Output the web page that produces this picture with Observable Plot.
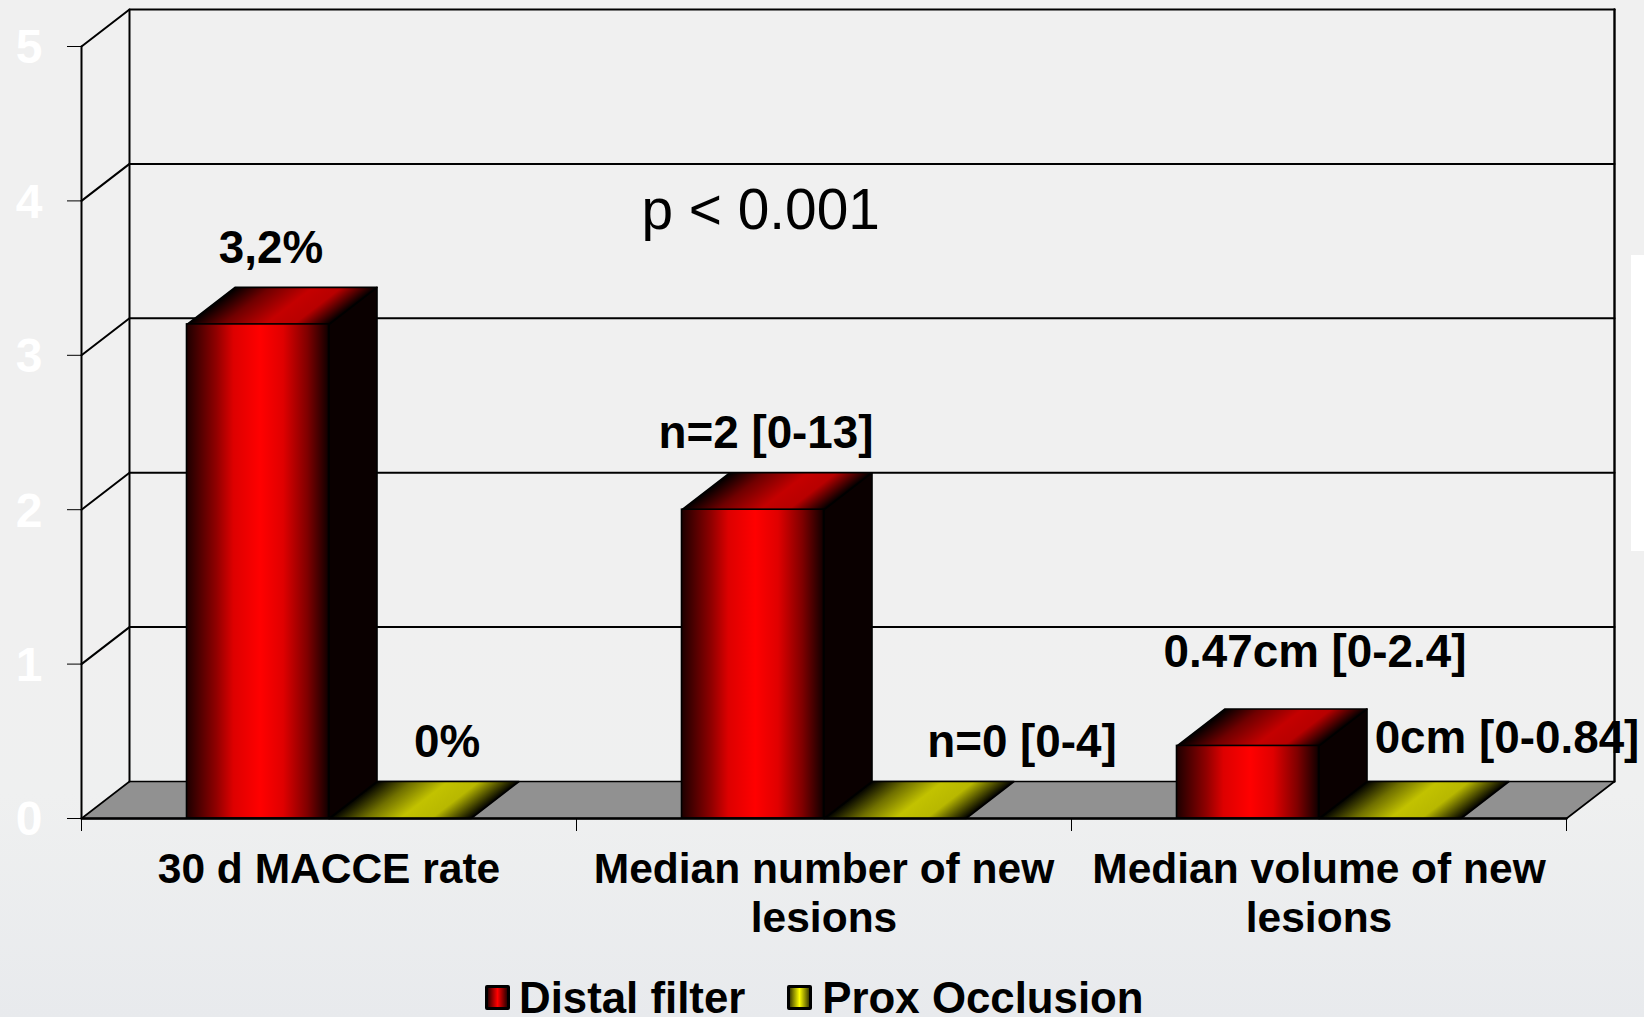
<!DOCTYPE html>
<html><head><meta charset="utf-8">
<script src="https://cdn.jsdelivr.net/npm/d3@7"></script>
<script src="https://cdn.jsdelivr.net/npm/@observablehq/plot@0.6"></script>
<style>
html,body{margin:0;padding:0;width:1644px;height:1017px;overflow:hidden;font-family:"Liberation Sans",Arial,sans-serif;
background:linear-gradient(#f0f0f0 0,#f0f0f0 62%,#eff0f0 78%,#e8eaed 100%);}
#wrap{position:relative;width:1644px;height:1017px}
#wrap svg{position:absolute;left:0;top:0;overflow:visible}
#strip{position:absolute;left:1631px;top:255px;width:13px;height:296px;background:#fff}
#legend{position:absolute;left:485px;top:979px;height:36px;display:flex;align-items:center;font-weight:bold;font-size:43.8px;line-height:36px;color:#000;white-space:nowrap}
#legend span{display:block;height:36px;line-height:36px;margin-top:1px}
#legend i{display:inline-block;box-sizing:border-box;width:25px;height:25px;border:3px solid #000;border-radius:2px}
#legend i.r{background:linear-gradient(90deg,#300000,#f00 50%,#300000);margin-right:9px}
#legend i.y{background:linear-gradient(90deg,#404000,#ff0 50%,#404000);margin-left:42px;margin-right:10px}
</style></head><body>
<div id="wrap"><div id="strip"></div><div id="legend"><i class="r"></i><span>Distal filter</span><i class="y"></i><span>Prox Occlusion</span></div></div>
<script>
const categories = ["30 d MACCE rate", "Median number of new\nlesions", "Median volume of new\nlesions"];
const distalFilter = [3.2, 2, 0.47];
const proxOcclusion = [0, 0, 0];
const distalLabels = ["3,2%", "n=2 [0-13]", "0.47cm [0-2.4]"];
const proxLabels = ["0%", "n=0 [0-4]", "0cm [0-0.84]"];
const yTicks = [0, 1, 2, 3, 4, 5];
const seriesNames = ["Distal filter", "Prox Occlusion"];

// oblique-projection settings, in scale units
const depthX = 48 / 495, depthY = 37 / 154.4;
const gap = 105.5 / 495, barW = 142 / 495;
const distalNudge = [[13, -76], [13, -76], [67, -94]];
const proxNudge = [[47, -76], [127, -76], [117, -80]];

function poly(pts) { return pts.concat([pts[0]]).map(([x, y]) => ({x, y})); }
function shape(pts, fill, extra = {}) {
  return Plot.line(poly(pts), {x: "x", y: "y", fill, stroke: "#000", strokeWidth: 1.6, curve: "linear", ...extra});
}
function path(pts, w = 2) {
  return Plot.line(pts.map(([x, y]) => ({x, y})), {x: "x", y: "y", stroke: "#000", strokeWidth: w, curve: "linear"});
}
const defs = () => {
  const d = d3.create("svg:defs");
  const grad = (id, attrs, stops) => {
    const g = d.append("linearGradient").attr("id", id);
    Object.entries(attrs).forEach(([k, v]) => g.attr(k, v));
    stops.forEach(([o, c]) => g.append("stop").attr("offset", o).attr("stop-color", c));
  };
  const slant = {x1: 0, y1: 1, x2: 0.702, y2: 1.178};
  grad("front", {x1: 0, y1: 0, x2: 1, y2: 0}, [[0, "#1c0000"], [0.21, "#900000"], [0.33, "#dd0000"], [0.52, "#ff0000"], [0.68, "#e00000"], [0.85, "#800000"], [1, "#100000"]]);
  grad("topRed", slant, [[0, "#000"], [0.25, "#700000"], [0.55, "#c40000"], [0.75, "#b80000"], [1, "#000"]]);
  grad("topYel", slant, [[0, "#000"], [0.25, "#707000"], [0.5, "#c2c200"], [0.72, "#b8b800"], [1, "#000"]]);
  return d.node();
};

const marks = [defs];
// floor and walls
marks.push(shape([[0, 0], [depthX, depthY], [3 + depthX, depthY], [3, 0]], "#919191"));
yTicks.slice(1).forEach(v => marks.push(path([[0, v], [depthX, v + depthY], [3 + depthX, v + depthY]])));
marks.push(path([[depthX, depthY], [depthX, 5 + depthY]]));
marks.push(path([[3 + depthX, depthY], [3 + depthX, 5 + depthY]], 2.4));
marks.push(path([[0, 0], [0, 5]]));
// bars
categories.forEach((c, i) => {
  const a = i + gap, b = a + barW, e = b + barW;
  const p = proxOcclusion[i], v = distalFilter[i];
  marks.push(shape([[b, p], [b + depthX, p + depthY], [e + depthX, p + depthY], [e, p]], "url(#topYel)"));
  marks.push(shape([[b, 0], [b + depthX, depthY], [b + depthX, v + depthY], [b, v]], "#0a0000"));
  marks.push(shape([[a, v], [a + depthX, v + depthY], [b + depthX, v + depthY], [b, v]], "url(#topRed)"));
  marks.push(Plot.rect([v], {x1: a, x2: b, y1: 0, y2: d => d, fill: "url(#front)", stroke: "#000", strokeWidth: 1.6}));
});
marks.push(path([[0, 0], [3, 0]], 2.4));
// axes
marks.push(Plot.axisY({ticks: yTicks, tickSize: 0, tickPadding: 39, dy: 1.5, tickFormat: d3.format("d"), fill: "#fff", fontSize: 48, fontWeight: "bold", fontFamily: "Liberation Sans", label: null}));
marks.push(Plot.axisY({ticks: yTicks, tickSize: 14, tickFormat: () => "", stroke: "#000", label: null}));
marks.push(Plot.axisX({ticks: [0, 1, 2, 3], tickSize: 13, tickFormat: () => "", stroke: "#000", label: null}));
// category labels
const txt = {fontFamily: "Liberation Sans", fontWeight: "bold", fill: "#000"};
marks.push(Plot.text(categories, {x: (d, i) => i + 0.5, y: () => 0, text: d => d, dy: 30, lineAnchor: "top", lineHeight: 1.15, fontSize: 42.5, ...txt}));
// value labels
categories.forEach((c, i) => {
  marks.push(Plot.text([distalLabels[i]], {x: i + gap + barW / 2, y: distalFilter[i], text: d => d, dx: distalNudge[i][0], dy: distalNudge[i][1], lineAnchor: "middle", fontSize: 45.8, ...txt}));
  marks.push(Plot.text([proxLabels[i]], {x: i + gap + barW * 1.5, y: proxOcclusion[i], text: d => d, dx: proxNudge[i][0], dy: proxNudge[i][1], lineAnchor: "middle", fontSize: 45.8, ...txt}));
});
marks.push(Plot.text(["p < 0.001"], {x: 1.372, y: 3.935, text: d => d, fontFamily: "Liberation Sans", fontSize: 56.8, fill: "#000", lineAnchor: "middle"}));

const chart = Plot.plot({
  width: 1644, height: 960,
  marginLeft: 81, marginRight: 78, marginTop: 46, marginBottom: 142,
  x: {type: "linear", domain: [0, 3], axis: null},
  y: {type: "linear", domain: [0, 5], axis: null},
  style: {background: "transparent", fontFamily: "Liberation Sans", overflow: "visible"},
  marks
});
document.getElementById("wrap").appendChild(chart);
</script>
</body></html>
